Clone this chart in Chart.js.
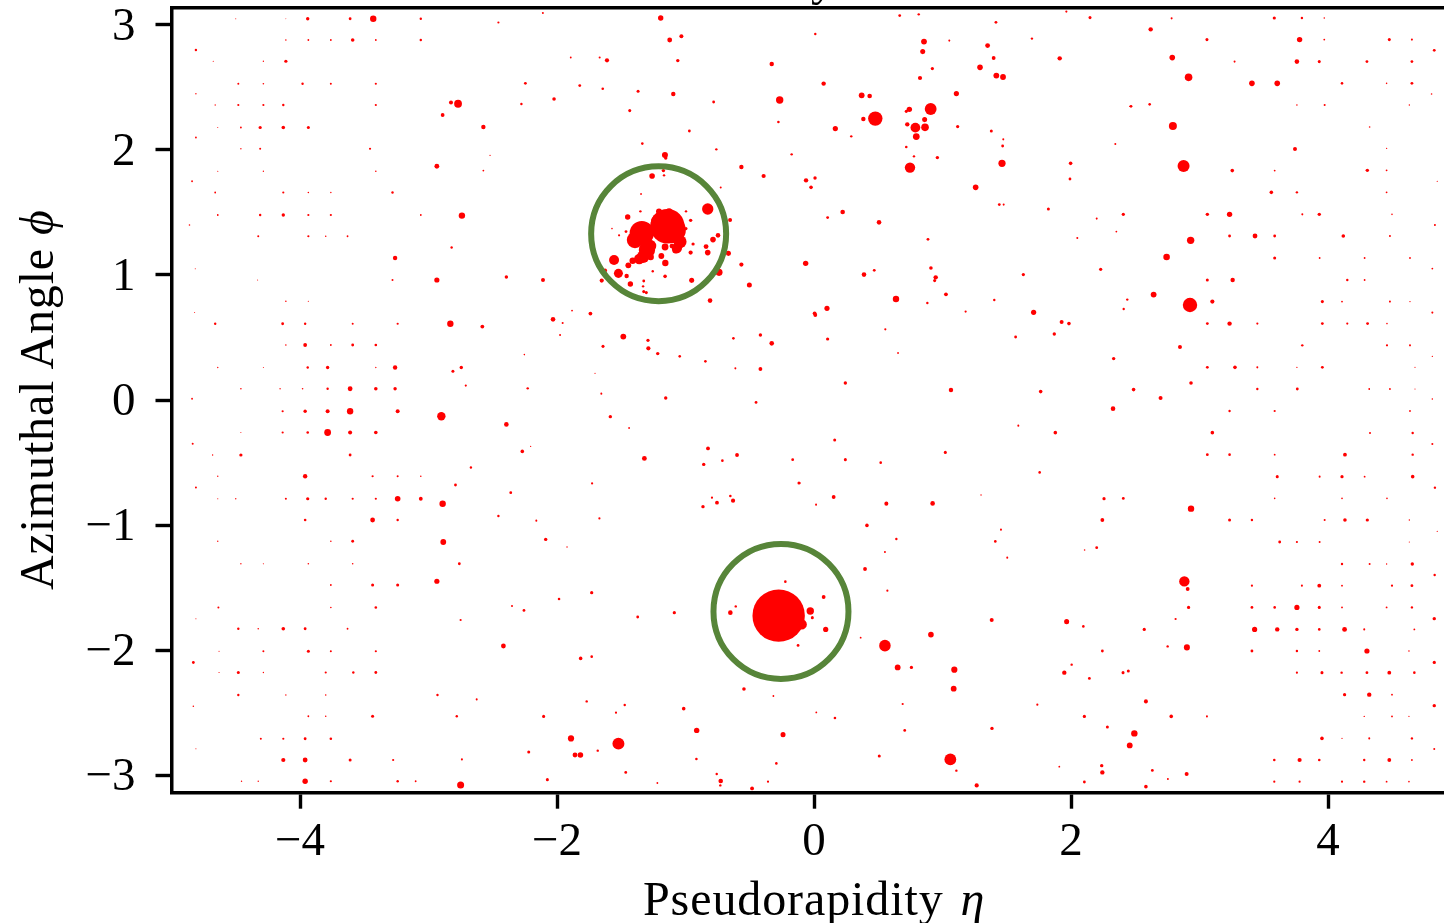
<!DOCTYPE html>
<html>
<head>
<meta charset="utf-8">
<title>Event display</title>
<script src="https://cdn.jsdelivr.net/npm/chart.js@4"></script>
<style>
  html, body { margin: 0; padding: 0; background: #fff; overflow: hidden; }
  #wrap { position: relative; width: 1444px; height: 923px; overflow: hidden; }
  #myChart { position: absolute; left: 0; top: 0; }
  .lbl { position: absolute; font-family: "Liberation Serif", serif; font-size: 48px; line-height: 48px; color: #000; white-space: nowrap; }
  .lbl i { letter-spacing: 0; }
  #xlabel { left: 643px; top: 875px; letter-spacing: 0.9px; }
  #xlabel i { margin-left: 4px; }
  #ylabel { left: 13px; top: 590px; letter-spacing: 0.85px; transform-origin: 0 0; transform: rotate(-90deg); }
  #titleTail { position: absolute; left: 811px; top: -45px; font-family: "Liberation Serif", serif; font-size: 48px; line-height: 48px; }
</style>
</head>
<body>
<div id="wrap">
  <canvas id="myChart" width="1480" height="923"></canvas>
  <div id="titleTail">y</div>
  <div id="xlabel" class="lbl">Pseudorapidity&nbsp;<i>η</i></div>
  <div id="ylabel" class="lbl">Azimuthal Angle&nbsp;<i>ϕ</i></div>
</div>
<script>
const xTicks = [-4, -2, 0, 2, 4];
const yTicks = [-3, -2, -1, 0, 1, 2, 3];

// jet axes, [eta, phi]
const jetAxes = [[-1.209, 1.33], [-0.257, -1.691]];

// every hit is [eta, phi, pT]
const jetOneHits = [
  [-1.34,1.335,144],[-1.141,1.39,289],[-1.10,1.36,169],[-1.19,1.42,100],[-1.206,1.507,7.85],[-1.128,1.501,16],[-1.069,1.44,25],[-1.048,1.253,25],
  [-1.076,1.2,10.9],[-1.159,1.224,10.2],[-1.107,1.232,4],[-1.188,1.152,7.3],[-1.157,1.096,9],[-1.263,1.232,9],
  [-1.30,1.2,64],[-1.33,1.146,36],[-1.36,1.128,25],[-1.276,1.232,36],[-1.271,1.144,9],[-1.411,1.114,9],[-1.393,1.28,64],
  [-1.067,1.216,25],[-1.04,1.266,36],
  [-1.445,1.077,7.3],[-1.556,1.12,23],[-1.522,1.013,18.5],[-1.458,0.992,4],[-1.429,0.928,6.25],[-1.652,0.955,3.6],
  [-1.626,1.035,3.25],[-1.255,1.03,1],[-1.159,0.989,2.55],[-1.325,0.952,1.45],[-1.33,0.909,1],[-1.325,0.867,1.7],
  [-1.305,0.859,1.7],[-0.952,0.957,5.3],[-0.941,1.248,2],[-0.84,1.227,4.85],[-0.786,1.283,6.75],[-0.747,1.317,4.4],
  [-0.96,1.179,3.6],[-0.827,1.179,6.75],[-0.666,1.173,5.3],[-0.739,1.021,10.9],[-0.827,1.528,30],[-0.653,1.44,3.25],
  [-1.351,1.509,1],[-1.45,1.464,6.25],[-0.996,1.509,1],[-0.96,1.437,2.25],[-0.996,1.371,1.7],[-1.572,1.371,0.35],
  [-1.463,1.347,1.45],[-1.517,1.317,0.8],[-1.26,1.792,6.75],[-1.172,1.835,2.25],[-1.167,1.797,1],[-0.726,1.7,0.65],
  [-1.346,1.648,0.5]
];
const jetTwoHits = [
  [-0.275,-1.725,676],[-0.096,-1.795,25],[-0.223,-1.453,1.2],[-0.609,-1.651,1],[-0.651,-1.701,4.4],[-0.124,-1.963,1.45],
  [-0.029,-1.688,12.25],[-0.013,-1.741,1.7],[0.075,-1.576,2.9],[0.091,-1.835,5.75]
];

const forwardLeftUpper = [
  [-4.5,3.05,0.1],[-4.11,3.05,0.06],[-3.94,3.05,2.25],[-3.61,3.05,1.45],[-3.43,3.05,9],[-3.06,3.05,1],
  [-4.11,2.88,0.35],[-3.935,2.88,0.5],[-3.76,2.88,0.5],[-3.59,2.88,2.55],[-3.41,2.88,0.5],[-3.06,2.88,1],
  [-4.81,2.8,1],[-4.675,2.71,0.15],[-4.285,2.71,0.25],[-4.11,2.71,2],
  [-4.48,2.53,0.65],[-4.285,2.53,0.35],[-3.98,2.53,1],[-3.76,2.53,0.65],[-3.41,2.53,0.8],[-4.81,2.45,0.25],
  [-4.66,2.36,0.25],[-4.48,2.36,0.8],[-4.285,2.36,0.8],[-4.13,2.36,1],[-3.41,2.36,0.8],
  [-2.77,2.37,13.7],[-2.825,2.38,3.25],[-2.89,2.28,2.9],
  [-4.64,2.18,0.1],[-4.46,2.18,0.5],[-4.31,2.18,2],[-4.13,2.18,2.55],[-3.935,2.18,1.7],[-4.81,2.1,0.5],
  [-4.46,2.01,0.25],[-4.31,2.01,0.65],[-3.455,2.01,0.8],
  [-4.64,1.83,0.15],[-4.285,1.83,0.25],[-3.41,1.83,0.35],[-2.935,1.87,4.85],[-4.84,1.75,0.5],
  [-4.66,1.66,0.5],[-4.13,1.66,0.8],[-3.935,1.66,0.35],[-3.76,1.66,0.25],[-3.28,1.66,1],
  [-4.64,1.48,0.5],[-4.31,1.48,1],[-4.13,1.48,2.25],[-3.935,1.48,0.8],[-3.76,1.48,0.8],[-3.06,1.48,0.5],[-2.74,1.475,9],
  [-4.86,1.4,0.35],[-4.325,1.31,0.65],[-3.935,1.31,0.8],[-3.8,1.31,0.35],[-3.63,1.31,0.5],[-2.82,1.22,1],
  [-3.26,1.136,4],[-4.815,1.05,0.1],[-4.33,0.96,0.1],[-3.28,0.96,0.65],[-2.935,0.96,5.75],
  [-4.11,0.79,0.35],[-3.935,0.79,0.15],[-4.82,0.7,0.1],
  [-4.66,0.61,1],[-4.135,0.61,1.45],[-3.96,0.61,1],[-3.59,0.61,0.65],[-3.24,0.61,0.8],[-2.83,0.61,9],
  [-4.11,0.44,0.35],[-3.96,0.44,2.9],[-3.76,0.44,0.5],[-3.59,0.44,1.45],[-3.41,0.44,1.2],
  [-4.64,0.26,0.25],[-4.285,0.26,0.1],[-3.94,0.26,1],[-3.785,0.26,2.25],[-3.41,0.26,0.25],[-3.26,0.26,4],[-2.745,0.26,2.25],[-2.81,0.23,1.7],
  [-4.46,0.09,0.35],[-4.155,0.09,0.25],[-3.98,0.09,0.35],[-3.785,0.09,1],[-3.61,0.09,4.85],[-3.41,0.09,2.55],[-3.26,0.09,2.25],[-2.71,0.115,0.8],
  [-4.84,0.01,0.5]
];
const forwardLeftLower = [
  [-4.135,-0.09,0.8],[-3.96,-0.09,2.25],[-3.785,-0.09,3.25],[-3.61,-0.09,9],[-3.24,-0.09,3.25],[-2.9,-0.13,16],
  [-4.46,-0.26,0.1],[-4.135,-0.26,0.8],[-3.94,-0.26,1.2],[-3.785,-0.26,10.2],[-3.61,-0.26,3.25],[-3.41,-0.26,2.55],[-4.835,-0.35,0.65],
  [-4.68,-0.44,0.25],[-4.46,-0.44,2],[-3.61,-0.44,1.45],[-2.67,-0.54,1],
  [-4.64,-0.61,0.25],[-3.96,-0.61,4],[-3.435,-0.61,0.8],[-3.24,-0.61,0.65],[-3.06,-0.61,0.35],[-4.81,-0.7,0.65],[-2.79,-0.68,1.45],
  [-4.64,-0.79,0.15],[-4.5,-0.79,0.25],[-4.11,-0.79,0.65],[-3.94,-0.79,2],[-3.8,-0.79,1],[-3.59,-0.79,0.8],[-3.41,-0.79,0.8],[-3.24,-0.79,6.75],[-3.06,-0.79,2.9],[-2.89,-0.83,9],
  [-3.96,-0.96,1.2],[-3.435,-0.96,4.85],[-3.24,-0.96,1],
  [-4.64,-1.13,0.25],[-3.76,-1.13,0.35],[-3.59,-1.13,1.45],[-2.885,-1.136,7.3],
  [-4.46,-1.31,0.25],[-4.285,-1.31,0.15],[-3.935,-1.31,0.35],[-3.59,-1.31,0.35],[-2.76,-1.31,1.45],
  [-3.76,-1.48,0.5],[-3.435,-1.48,1.7],[-3.24,-1.48,1.7],[-2.935,-1.45,5.75],
  [-4.635,-1.66,0.65],[-3.76,-1.66,0.35],[-3.41,-1.66,1.2],[-4.81,-1.75,0.1],[-2.75,-1.76,0.8],
  [-4.48,-1.83,1],[-4.325,-1.83,0.35],[-4.13,-1.83,2.55],[-3.96,-1.83,1.45],[-3.63,-1.83,0.5],
  [-4.63,-2.01,0.15],[-4.285,-2.01,0.65],[-3.935,-2.01,1.7],[-3.76,-2.01,0.65],[-3.41,-2.01,0.8],[-4.83,-2.1,1.45],
  [-4.63,-2.18,0.15],[-4.48,-2.18,1.7],[-4.285,-2.18,0.25],[-3.8,-2.18,0.8],[-3.585,-2.18,1],[-3.41,-2.18,1.45],
  [-4.48,-2.36,1],[-4.11,-2.36,0.25],[-3.8,-2.36,0.35],[-2.93,-2.36,1],[-2.625,-2.395,0.65],[-4.83,-2.45,0.35],
  [-3.935,-2.53,0.5],[-3.8,-2.53,0.35],[-3.435,-2.53,1.7],[-2.78,-2.53,1],
  [-4.305,-2.71,0.65],[-4.13,-2.71,0.8],[-3.96,-2.71,1.45],[-3.76,-2.71,1.2],[-4.81,-2.79,0.1],
  [-4.13,-2.88,3.6],[-3.96,-2.88,4.85],[-3.61,-2.88,1.7],[-3.275,-2.88,0.8],[-2.74,-2.875,0.65],
  [-4.455,-3.05,0.25],[-4.325,-3.05,0.25],[-3.96,-3.05,6.25],[-3.76,-3.05,0.8],[-3.24,-3.05,1],[-3.1,-3.05,0.5],[-2.75,-3.08,10.9]
];

const barrelLeftUpper = [
  [-2.456,3.02,0.8],[-2.11,3.096,0.65],[-1.193,3.056,6.25],[-1.123,2.88,4.85],[-1.032,2.91,3.25],[-1.893,2.74,0.5],
  [-1.668,2.74,0.65],[-1.611,2.717,3.6],[-1.06,2.715,2.25],[-0.329,2.688,4],[-2.246,2.533,1.45],[-1.823,2.515,1.45],
  [-1.644,2.49,1.2],[-1.369,2.47,1.7],[-1.095,2.448,4],[-0.781,2.384,1.45],[-0.267,2.4,12.25],[-2.277,2.368,1],
  [-2.023,2.408,2.55],[-1.434,2.315,1.7],[-2.573,2.184,4],[-0.97,2.152,1.45],[-0.277,2.224,1.2],[-1.336,2.051,1.2],
  [-0.76,2.005,1],[-0.174,1.965,1],[-1.16,1.96,7.85],[-1.154,1.936,2.25],[-2.521,1.957,0.25],[-2.573,1.835,0.5],
  [-0.565,1.864,4],[-0.392,1.792,3.6],
  [-0.565,1.083,3.6],[-0.503,0.92,5.3],[-0.809,0.795,4.4],[-2.394,0.984,2.25],[-2.109,0.96,3.25],[-2.031,0.645,4.4],
  [-1.956,0.616,0.65],[-1.883,0.715,0.5],[-1.976,0.52,0.65],[-1.74,0.691,2.9],[-2.581,0.587,2.9],[-1.484,0.507,7.3],
  [-1.292,0.477,2],[-1.289,0.413,3.6],[-1.216,0.371,2.25],[-1.642,0.429,1.7],[-1.045,0.349,1.2],[-0.845,0.309,1.2],
  [-0.627,0.493,1.2],[-0.417,0.52,2.25],[-0.329,0.453,4.4],[-0.612,0.253,0.65],[-0.417,0.248,2.9],[-2.254,0.363,0.35],
  [-1.704,0.213,0.15],[-2.228,0.093,1],[-1.655,0.051,0.65],[-1.154,0.016,2.25]
];
const barrelLeftLower = [
  [-2.394,-0.195,4.4],[-1.585,-0.133,2.25],[-1.439,-0.224,0.5],[-0.451,-0.019,1.45],[-2.27,-0.411,2.55],[-2.205,-0.371,0.15],
  [-1.32,-0.467,4.85],[-0.825,-0.387,2.9],[-0.599,-0.44,2.9],[-0.858,-0.515,2.25],[-0.713,-0.485,1.2],[-0.166,-0.477,1.45],
  [-0.117,-0.664,1.7],[-1.727,-0.667,0.8],[-2.36,-0.741,1.45],[-0.794,-0.781,0.8],[-0.651,-0.768,1.2],[-0.63,-0.805,3.6],
  [-0.755,-0.821,2.9],[-0.864,-0.853,2.25],[-2.456,-0.928,1],[-2.161,-0.965,0.65],[-1.67,-0.947,0.8],[-2.088,-1.115,2.25],
  [-1.922,-1.176,0.25],[-1.73,-1.541,2],[-1.984,-1.592,1.2],[-2.35,-1.648,0.65],[-2.257,-1.683,1.45],[-1.372,-1.736,1.45],
  [-1.087,-1.701,2],[-2.417,-1.968,4.85],[-1.816,-2.067,2.55],[-1.73,-2.053,1.2],[-1.769,-2.411,1],[-2.104,-2.531,1.7],
  [-1.473,-2.44,1],[-1.541,-2.501,0.8],[-1.014,-2.469,2.55],[-0.913,-2.643,6.25],[-0.545,-2.312,2.55],[-0.316,-2.368,0.5],
  [-0.241,-2.677,5.3],[-0.293,-2.907,1.2],[-1.891,-2.707,8.4],[-1.522,-2.749,33.6],[-2.22,-2.816,1.7],[-1.86,-2.84,4.85],
  [-1.818,-2.84,6.75],[-1.683,-2.805,1],[-0.915,-2.872,1.2],[-1.465,-2.979,1.45],[-2.075,-3.037,1.7],[-1.219,-3.064,0.5],
  [-0.757,-2.992,1],[-0.726,-3.048,4.4],[-0.729,-3.083,1],[-0.482,-3.107,2.9],[-0.358,-3.053,0.8]
];

const barrelRightUpper = [
  [0.667,3.075,1.45],[0.815,3.085,1],[1.416,3.021,1.45],[1.964,3.107,0.8],[2.148,3.059,1.7],[0.01,2.928,1],
  [0.856,2.867,7.3],[1.053,2.875,0.65],[1.351,2.835,4.85],[1.696,2.891,1],[0.846,2.787,5.3],[1.398,2.736,2.9],
  [1.912,2.733,4],[1.292,2.661,6.75],[0.921,2.651,2],[0.825,2.576,3.6],[1.419,2.595,7.3],[1.471,2.584,7.3],
  [0.075,2.531,4],[1.108,2.451,5.75],[0.371,2.437,7.3],[0.433,2.432,4.4],[2.456,2.349,0.1],[0.477,2.251,49],
  [0.908,2.328,32.5],[0.742,2.325,6.25],[0.718,2.309,1.7],[0.384,2.248,4],[0.861,2.243,5.3],[0.726,2.205,4],
  [0.789,2.179,22],[0.864,2.181,13],[0.796,2.107,10.2],[1.118,2.187,2],[1.38,2.152,1.7],[0.166,2.171,5.75],
  [0.29,2.109,1],[1.473,2.085,0.65],[1.468,2.032,1.45],[2.345,2.048,0.65],[0.718,2.024,1.2],[0.778,1.949,1],
  [0.96,1.939,2.25],[0.747,1.859,25],[1.463,1.893,11.6],[1.997,1.893,2.55],[1.992,1.768,1.45],[-0.062,1.757,4],
  [0.008,1.776,2.25],[-0.023,1.701,2.55],[1.258,1.701,6.75],[1.442,1.563,1.45],[1.476,1.563,0.65],[1.824,1.528,1.7],
  [0.223,1.504,4.4],[2.407,1.485,2],[2.2,1.451,0.65],[0.106,1.459,1.45],[0.506,1.421,4.4],[2.353,1.347,0.5],
  [2.049,1.296,0.65],[0.887,1.285,1.45],[-0.065,1.093,6.25],[0.91,1.056,2.55],[0.389,1.003,4.4],[0.469,1.037,1.45],
  [0.947,0.981,4],[0.939,0.955,1.7],[1.629,1.003,2],[2.231,1.045,2],[1.027,0.845,2.9],[0.638,0.808,9],
  [0.882,0.776,1],[1.403,0.8,1],[2.438,0.803,1],[2.41,0.728,1],[1.18,0.707,0.8],[1.709,0.701,5.75],
  [0.005,0.693,2.9],[0.01,0.68,2.9],[0.101,0.733,5.75],[1.927,0.624,3.25],[1.984,0.611,2.55],[1.87,0.528,2.25],
  [1.569,0.504,1.45],[0.555,0.565,0.8],[0.106,0.488,2],[0.654,0.376,0.5],[2.332,0.331,2.25],[0.244,0.136,2.25],
  [1.066,0.08,4],[1.764,0.067,2.55]
];
const barrelRightLower = [
  [2.327,-0.069,4.4],[1.59,-0.205,0.65],[1.878,-0.261,2.55],[0.161,-0.32,1.7],[1.022,-0.419,1.7],[0.244,-0.477,1.7],
  [0.519,-0.501,1.2],[1.756,-0.579,1.2],[-0.109,-0.664,0.25],[1.3,-0.76,0.25],[2.257,-0.789,2],[2.407,-0.787,1.45],
  [0.153,-0.776,2.9],[0.016,-0.837,0.65],[0.563,-0.829,3.25],[0.923,-0.827,4.4],[0.412,-1.003,2.55],[2.244,-0.96,2.9],
  [1.455,-1.037,0.65],[0.641,-1.112,1],[1.411,-1.131,1.2],[2.2,-1.181,1.45],[2.106,-1.2,0.35],[0.552,-1.216,0.65],
  [1.504,-1.261,0.65],[0.397,-1.352,2.9],[0.571,-1.525,0.8],[1.383,-1.76,3.25],[1.966,-1.773,5.3],[2.096,-1.811,1.2],
  [0.91,-1.877,6.75],[0.363,-1.901,0.5],[0.552,-1.965,31],[2.244,-2.008,1.45],[2.005,-2.117,1],[1.948,-2.181,4],
  [2.143,-2.227,1.45],[2.405,-2.181,1.7],[2.446,-2.168,1.7],[0.651,-2.139,7.3],[0.758,-2.139,2],[1.092,-2.157,8.4],
  [1.087,-2.309,7.3],[0.69,-2.432,0.8],[1.738,-2.437,0.8],[0.018,-2.499,0.5],[0.163,-2.544,1.2],[2.104,-2.531,2],
  [2.283,-2.616,1.7],[0.706,-2.643,1.45],[1.385,-2.627,2.25],[2.457,-2.763,7.3],[2.493,-2.667,9],[0.508,-2.848,1.7],
  [1.061,-2.875,32.5],[1.108,-2.965,1],[1.266,-3.083,3.6],[1.909,-2.933,0.5],[2.239,-2.925,2.25],[2.244,-2.979,4],
  [2.104,-3.056,1.45]
];

const forwardRightUpper = [
  [2.783,3.053,0.65],[3.582,3.056,2],[3.797,3.056,1],[3.971,3.056,0.35],[2.62,2.965,4],[3.058,2.883,1.7],
  [3.779,2.883,6.25],[3.971,2.883,0.5],[4.477,2.883,1.7],[4.653,2.883,0.65],[4.827,2.797,1.45],[2.788,2.739,6.75],
  [3.273,2.707,0.65],[3.758,2.707,4.4],[3.932,2.707,1.7],[4.303,2.707,1.45],[4.653,2.707,1.45],[2.915,2.581,13],
  [3.408,2.533,6.75],[3.605,2.533,6.75],[4.109,2.533,1.2],[4.456,2.533,0.35],[4.653,2.533,1.45],[4.806,2.448,0.35],
  [2.467,2.349,1.45],[2.612,2.365,1.2],[3.758,2.36,0.35],[3.974,2.36,0.65],[4.633,2.36,0.25],[2.793,2.192,14.4],
  [4.324,2.184,0.35],[3.743,2.008,3.25],[4.456,2.013,0.25],[2.876,1.872,33.6],[3.255,1.835,2.55],[3.585,1.835,0.5],
  [4.306,1.837,2.25],[4.456,1.837,0.5],[4.85,1.749,0.15],[3.559,1.661,2.55],[3.758,1.661,1],[4.456,1.661,0.5],
  [3.061,1.485,2.25],[3.234,1.485,6.25],[3.8,1.485,0.65],[3.932,1.485,2.25],[4.498,1.485,0.35],[4.832,1.4,0.65],
  [3.234,1.312,1.45],[3.432,1.312,4.85],[3.585,1.312,1.45],[4.119,1.312,2.55],[4.482,1.312,0.65],[2.931,1.277,12.25],
  [2.744,1.144,9.6],[3.585,1.136,1.7],[3.935,1.136,0.5],[4.285,1.136,0.5],[4.638,1.136,0.5],[4.812,1.051,0.5],
  [3.061,0.96,1.7],[3.258,0.96,4],[4.15,0.96,1],[4.285,0.96,0.5],[2.643,0.843,7.3],[2.926,0.76,49],
  [3.1,0.787,3.6],[3.956,0.787,1.7],[4.109,0.787,0.5],[4.482,0.787,0.65],[4.638,0.787,0.25],[4.812,0.699,0.65],
  [3.061,0.611,1.45],[3.234,0.611,4],[3.45,0.611,0.8],[3.956,0.611,1.45],[4.15,0.611,0.8],[4.308,0.611,1.45],
  [4.459,0.611,0.35],[3.8,0.437,1],[4.459,0.437,0.8],[4.638,0.437,0.65],[2.848,0.424,3.25],[4.812,0.349,0.25],
  [3.061,0.261,1.45],[3.276,0.261,2.55],[3.45,0.261,0.65],[3.758,0.261,0.25],[3.956,0.261,1.45],[4.677,0.261,0.15],
  [2.934,0.136,2.55],[2.487,0.083,2.55],[3.45,0.088,1],[3.761,0.088,1.45],[4.321,0.088,0.5],[4.482,0.088,0.5],
  [4.677,0.088,0.15],[2.697,0.016,3.25],[4.812,0.008,0.35]
];
const forwardRightLower = [
  [3.234,-0.088,1],[3.585,-0.088,0.8],[4.638,-0.088,0.5],[3.1,-0.261,2.55],[4.327,-0.264,0.65],[4.659,-0.264,1],
  [4.812,-0.352,0.65],[3.061,-0.437,1.45],[3.234,-0.437,1.2],[3.585,-0.437,0.5],[4.132,-0.437,2.9],[4.659,-0.437,1],
  [3.605,-0.613,1.7],[3.935,-0.613,0.65],[4.109,-0.613,2],[4.285,-0.613,0.5],[4.659,-0.613,2.55],[4.832,-0.701,1],
  [2.934,-0.869,9],[3.585,-0.787,0.35],[4.109,-0.787,0.35],[4.459,-0.787,0.35],[3.234,-0.96,1.7],[3.408,-0.96,1],
  [3.974,-0.96,0.65],[4.132,-0.96,2.55],[4.306,-0.96,2],[4.633,-0.96,0.25],[4.85,-1.051,0.1],[3.624,-1.136,1.45],
  [3.758,-1.136,0.8],[3.935,-1.136,0.65],[4.633,-1.136,0.15],[4.109,-1.312,1],[4.324,-1.312,0.65],[4.456,-1.312,0.25],
  [4.656,-1.312,2.25],[4.83,-1.4,1],[2.882,-1.451,25],[2.908,-1.512,2.9],[3.408,-1.485,0.8],[3.797,-1.485,0.65],
  [3.932,-1.485,2.9],[4.109,-1.485,0.5],[4.498,-1.485,0.8],[4.653,-1.485,1.45],[2.915,-1.659,2],[3.408,-1.659,1.45],
  [3.585,-1.659,1.2],[3.758,-1.659,5.75],[3.932,-1.659,1.7],[4.109,-1.659,0.5],[4.456,-1.659,0.5],[4.653,-1.659,1],
  [4.827,-1.749,2.25],[2.814,-1.752,0.8],[2.57,-1.835,2],[3.429,-1.835,5.75],[3.605,-1.835,4],[3.758,-1.835,2.25],
  [3.932,-1.835,1.2],[4.129,-1.835,4.85],[4.282,-1.835,0.65],[4.672,-1.835,0.5],[2.752,-1.971,1],[2.902,-1.979,7.85],
  [3.408,-2.008,1.45],[3.758,-2.008,1],[3.932,-2.008,0.5],[4.303,-2.008,5.75],[4.63,-2.008,0.35],[4.827,-2.099,2],
  [3.758,-2.181,0.8],[3.953,-2.181,1.7],[4.106,-2.181,1],[4.303,-2.181,1.45],[4.477,-2.181,2.9],[4.672,-2.181,1.2],
  [4.129,-2.357,2],[4.321,-2.357,4],[4.498,-2.357,0.5],[4.827,-2.445,2.25],[2.583,-2.411,3.25],[2.78,-2.531,2.55],
  [3.058,-2.531,0.65],[4.282,-2.531,0.25],[4.498,-2.531,0.5],[4.63,-2.531,0.15],[3.953,-2.707,2.55],[4.109,-2.707,0.15],
  [4.321,-2.707,0.65],[4.653,-2.707,1],[4.827,-2.792,0.65],[3.582,-2.88,1.2],[3.779,-2.88,3.6],[3.932,-2.88,1.2],
  [4.282,-2.88,1],[4.477,-2.88,2.9],[4.653,-2.88,0.5],[2.633,-2.963,1.45],[2.754,-3.032,0.65],[2.9,-2.992,3.25],
  [2.583,-3.093,2.55],[3.582,-3.053,0.8],[3.779,-3.053,0.8],[4.109,-3.053,0.8],[4.282,-3.053,1],[4.456,-3.053,0.5],
  [4.63,-3.053,0.35]
];

const allHits = [].concat(jetOneHits, jetTwoHits, forwardLeftUpper, forwardLeftLower, barrelLeftUpper, barrelLeftLower,
  barrelRightUpper, barrelRightLower, forwardRightUpper, forwardRightLower);

// minus sign like the LaTeX labels
function tickText(value) {
    return String(value).replace('-', '\u2212');
}

// pin an axis to a fixed thickness and drop the tick label overhang
function pinAxis(prop, size) {
    return (axis) => {
        axis[prop] = size;
        axis.paddingLeft = axis.paddingRight = axis.paddingTop = axis.paddingBottom = 0;
    };
}

const tickFont = { family: '"Liberation Serif", serif', size: 47 };

const ctx = document.getElementById('myChart').getContext('2d');

new Chart(ctx, {
    type: 'scatter',
    data: {
        datasets: [
            {
                label: 'Jets',
                data: jetAxes.map(([x, y]) => ({ x, y })),
                pointRadius: 67.5,
                pointHoverRadius: 67.5,
                pointBackgroundColor: 'rgba(0,0,0,0)',
                pointBorderColor: '#578539',
                pointBorderWidth: 6
            },
            {
                label: 'Hits',
                data: allHits.map(([x, y, pt]) => ({ x, y, pt })),
                // marker area goes with pT
                pointRadius: (c) => Math.sqrt(c.raw.pt) + 0.2,
                pointBackgroundColor: '#ff0000',
                pointBorderWidth: 0
            }
        ]
    },
    options: {
        responsive: false,
        animation: false,
        devicePixelRatio: 1,
        events: [],
        // the big jet rings would otherwise push the axes inwards
        layout: { autoPadding: false, padding: { left: 0, right: 23.5, top: 7.3, bottom: 0 } },
        plugins: { legend: { display: false }, tooltip: { enabled: false } },
        scales: {
            x: {
                type: 'linear',
                position: 'bottom',
                min: -5,
                max: 5,
                afterBuildTicks: (axis) => { axis.ticks = xTicks.map((value) => ({ value })); },
                afterFit: pinAxis('height', 130.3),
                ticks: { callback: tickText, font: tickFont, color: '#000', padding: 6, maxRotation: 0, autoSkip: false },
                grid: { drawOnChartArea: false, tickLength: 16, tickWidth: 3.4, tickColor: '#000' },
                border: { color: '#000', width: 3.5 }
            },
            top: {
                type: 'linear',
                position: 'top',
                min: -5,
                max: 5,
                afterFit: pinAxis('height', 0),
                ticks: { display: false },
                grid: { display: false },
                border: { color: '#000', width: 3.5 }
            },
            y: {
                type: 'linear',
                position: 'left',
                min: -Math.PI,
                max: Math.PI,
                afterBuildTicks: (axis) => { axis.ticks = yTicks.map((value) => ({ value })); },
                afterFit: pinAxis('width', 171.5),
                ticks: { callback: tickText, font: tickFont, color: '#000', padding: 20, labelOffset: 3, autoSkip: false },
                grid: { drawOnChartArea: false, tickLength: 16, tickWidth: 3.4, tickColor: '#000' },
                border: { color: '#000', width: 3.5 }
            }
        }
    }
});
</script>
</body>
</html>
